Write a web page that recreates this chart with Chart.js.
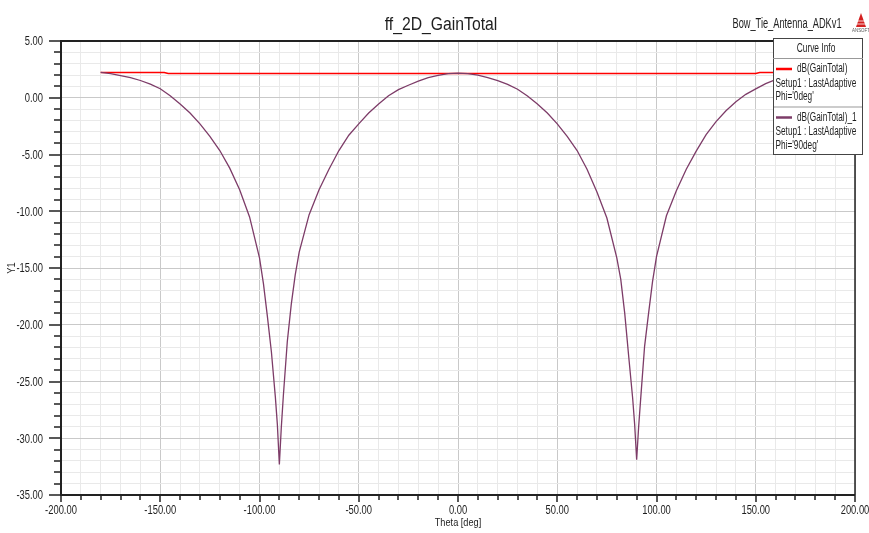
<!DOCTYPE html>
<html>
<head>
<meta charset="utf-8">
<script src="https://cdn.jsdelivr.net/npm/chart.js@4/dist/chart.umd.min.js"></script>
<style>
  body { margin: 0; background: #fff; }
  canvas { display: block; }
</style>
</head>
<body>
<canvas id="chart" width="869" height="533"></canvas>
<script>
// Phi = 0deg cut (red)
const theta0 = [-180, -148, -146, 150, 152, 180];
const gain0 = [2.23, 2.23, 2.13, 2.13, 2.23, 2.23];

// Phi = 90deg cut (purple)
const theta90 = [
  -180, -175, -170, -165, -160, -155, -150, -145, -140, -135, -130, -125, -120, -115, -110, -105,
  -100, -98, -96, -94, -92, -91, -90, -89, -88, -86, -84, -82, -80, -75, -70, -65, -60, -55, -50,
  -45, -40, -35, -30, -25, -20, -15, -10, -5, 0, 5, 10, 15, 20, 25, 30, 35, 40, 45, 50, 55, 60,
  65, 70, 75, 80, 82, 84, 86, 88, 89, 90, 91, 92, 94, 96, 98, 100, 105, 110, 115, 120, 125, 130,
  135, 140, 145, 150, 155, 160, 165, 170, 175, 180
];
const gain90 = [
  2.23, 2.13, 1.95, 1.78, 1.52, 1.20, 0.79, 0.18, -0.55, -1.35, -2.30, -3.40, -4.65, -6.20, -8.10, -10.50,
  -14.10, -16.40, -19.30, -22.40, -26.40, -28.80, -32.30, -29.00, -26.30, -21.50, -18.20, -15.60, -13.60, -10.30, -8.10, -6.30, -4.65, -3.30, -2.30,
  -1.35, -0.55, 0.18, 0.72, 1.10, 1.47, 1.78, 1.98, 2.12, 2.17, 2.12, 2.00, 1.78, 1.50, 1.18, 0.75, 0.15, -0.55, -1.35, -2.30, -3.40, -4.65,
  -6.30, -8.30, -10.60, -14.10, -16.00, -19.00, -22.80, -26.50, -28.80, -31.90, -29.00, -26.60, -21.90, -19.00, -16.20, -14.00, -10.40, -8.20, -6.30, -4.70, -3.25, -2.10,
  -1.15, -0.35, 0.30, 0.78, 1.25, 1.60, 1.88, 2.05, 2.18, 2.23
];

const xTicks = [-200, -150, -100, -50, 0, 50, 100, 150, 200];
const yTicks = [5, 0, -5, -10, -15, -20, -25, -30, -35];

const FONT = "'Liberation Sans', Arial, sans-serif";
const TXT = '#1e1e1e';
const RED = '#ff0000';
const PURPLE = '#7d3c68';

function toPts(xs, ys) {
  return xs.map((x, i) => ({ x: x, y: ys[i] }));
}

// HFSS uses a squeezed Arial, so text is scaled horizontally
function squeezed(ctx, s, x, y, size, sx, align) {
  ctx.save();
  ctx.translate(x, y);
  ctx.scale(sx, 1);
  ctx.font = size + 'px ' + FONT;
  ctx.textAlign = align || 'center';
  ctx.textBaseline = 'middle';
  ctx.fillText(s, 0, 0);
  ctx.restore();
}

// axes, tick marks, labels, titles, legend box and logo
const hfssFrame = {
  id: 'hfssFrame',
  afterDatasetsDraw(chart) {
    const ctx = chart.ctx;
    const a = chart.chartArea;
    const xs = chart.scales.x, ys = chart.scales.y;
    ctx.save();
    ctx.strokeStyle = '#222';
    ctx.lineWidth = 1.5;
    ctx.beginPath();
    ctx.moveTo(a.right, a.top);
    ctx.lineTo(a.right, a.bottom);
    ctx.stroke();
    ctx.lineWidth = 2;
    ctx.beginPath();
    ctx.moveTo(a.right, a.top);
    ctx.lineTo(a.left, a.top);
    ctx.lineTo(a.left, a.bottom);
    ctx.lineTo(a.right, a.bottom);
    ctx.stroke();

    // tick marks
    ctx.lineWidth = 1.5;
    ctx.beginPath();
    xs.ticks.forEach(t => {
      const px = Math.round(xs.getPixelForValue(t.value));
      const len = xTicks.includes(t.value) ? 7 : 5;
      ctx.moveTo(px, a.bottom);
      ctx.lineTo(px, a.bottom + len);
    });
    ys.ticks.forEach(t => {
      const py = Math.round(ys.getPixelForValue(t.value));
      const len = yTicks.includes(t.value) ? 12 : 7;
      ctx.moveTo(a.left, py);
      ctx.lineTo(a.left - len, py);
    });
    ctx.stroke();

    // tick labels
    ctx.fillStyle = TXT;
    xTicks.forEach(v => {
      squeezed(ctx, v.toFixed(2), xs.getPixelForValue(v), a.bottom + 15.5, 12.5, 0.75, 'center');
    });
    yTicks.forEach(v => {
      squeezed(ctx, v.toFixed(2), 43, ys.getPixelForValue(v) + 1, 12.5, 0.75, 'right');
    });

    // axis titles
    squeezed(ctx, 'Theta [deg]', (a.left + a.right) / 2, 523, 11.5, 0.8, 'center');
    ctx.save();
    ctx.translate(12, 268);
    ctx.rotate(-Math.PI / 2);
    squeezed(ctx, 'Y1', 0, 0, 11.5, 0.8, 'center');
    ctx.restore();
    ctx.restore();
  },
  afterDraw(chart) {
    const ctx = chart.ctx;
    ctx.save();
    ctx.fillStyle = TXT;
    squeezed(ctx, 'ff_2D_GainTotal', 441, 25, 18, 0.875, 'center');
    squeezed(ctx, 'Bow_Tie_Antenna_ADKv1', 787, 24, 14, 0.66, 'center');

    // ansoft logo
    ctx.fillStyle = '#d42020';
    ctx.beginPath();
    ctx.moveTo(861, 13);
    ctx.lineTo(866, 27);
    ctx.lineTo(856, 27);
    ctx.closePath();
    ctx.fill();
    ctx.strokeStyle = '#fff';
    ctx.lineWidth = 0.8;
    ctx.beginPath();
    ctx.moveTo(857, 21); ctx.lineTo(865, 21);
    ctx.moveTo(856, 24); ctx.lineTo(866, 24);
    ctx.stroke();
    ctx.fillStyle = '#555';
    squeezed(ctx, 'ANSOFT', 861, 30.5, 5.5, 0.8, 'center');

    // curve info box
    const L = 773, R = 863, T = 38, B = 155;
    ctx.fillStyle = '#fff';
    ctx.fillRect(L, T, R - L, B - T);
    ctx.strokeStyle = '#444';
    ctx.lineWidth = 1;
    ctx.strokeRect(L + 0.5, T + 0.5, R - L - 1, B - T - 1);
    ctx.strokeStyle = '#999';
    ctx.beginPath();
    ctx.moveTo(L, 58.5); ctx.lineTo(R, 58.5);
    ctx.stroke();
    ctx.strokeStyle = '#ccc';
    ctx.lineWidth = 2;
    ctx.beginPath();
    ctx.moveTo(L + 1, 107); ctx.lineTo(R - 1, 107);
    ctx.stroke();

    ctx.fillStyle = TXT;
    squeezed(ctx, 'Curve Info', 816, 49, 12.5, 0.67, 'center');

    const entries = [
      { color: RED, name: 'dB(GainTotal)', phi: "Phi='0deg'", y: 69 },
      { color: PURPLE, name: 'dB(GainTotal)_1', phi: "Phi='90deg'", y: 117.5 }
    ];
    entries.forEach(e => {
      ctx.strokeStyle = e.color;
      ctx.lineWidth = 2.5;
      ctx.beginPath();
      ctx.moveTo(776, e.y);
      ctx.lineTo(792, e.y);
      ctx.stroke();
      ctx.fillStyle = TXT;
      squeezed(ctx, e.name, 797, e.y, 12.5, 0.66, 'left');
      squeezed(ctx, 'Setup1 : LastAdaptive', 775.5, e.y + 14.5, 12.5, 0.66, 'left');
      squeezed(ctx, e.phi, 775.5, e.y + 28, 12.5, 0.66, 'left');
    });
    ctx.restore();
  }
};

new Chart(document.getElementById('chart'), {
  type: 'line',
  data: {
    datasets: [
      {
        label: 'dB(GainTotal)',
        data: toPts(theta0, gain0),
        borderColor: RED,
        borderWidth: 1.6,
        pointRadius: 0,
        tension: 0,
        order: 2
      },
      {
        label: 'dB(GainTotal)_1',
        data: toPts(theta90, gain90),
        borderColor: PURPLE,
        borderWidth: 1.3,
        pointRadius: 0,
        tension: 0,
        order: 1
      }
    ]
  },
  options: {
    responsive: false,
    animation: false,
    devicePixelRatio: 1,
    layout: { padding: { top: 41, right: 14, left: 0, bottom: 0 } },
    plugins: {
      legend: { display: false },
      tooltip: { enabled: false },
      title: { display: false }
    },
    scales: {
      x: {
        type: 'linear',
        min: -200,
        max: 200,
        afterFit: s => { s.height = 38; s.paddingLeft = 0; s.paddingRight = 0; },
        border: { display: false },
        grid: {
          drawTicks: false,
          lineWidth: 1,
          color: c => (c.tick && xTicks.includes(c.tick.value)) ? '#c9c9c9' : '#e9e9e9'
        },
        ticks: { stepSize: 10, autoSkip: false, display: false }
      },
      y: {
        type: 'linear',
        min: -35,
        max: 5,
        afterFit: s => { s.width = 61; s.paddingTop = 0; s.paddingBottom = 0; },
        border: { display: false },
        grid: {
          drawTicks: false,
          lineWidth: 1,
          color: c => (c.tick && yTicks.includes(c.tick.value)) ? '#c9c9c9' : '#e9e9e9'
        },
        ticks: { stepSize: 1, autoSkip: false, display: false }
      }
    }
  },
  plugins: [hfssFrame]
});
</script>
</body>
</html>
